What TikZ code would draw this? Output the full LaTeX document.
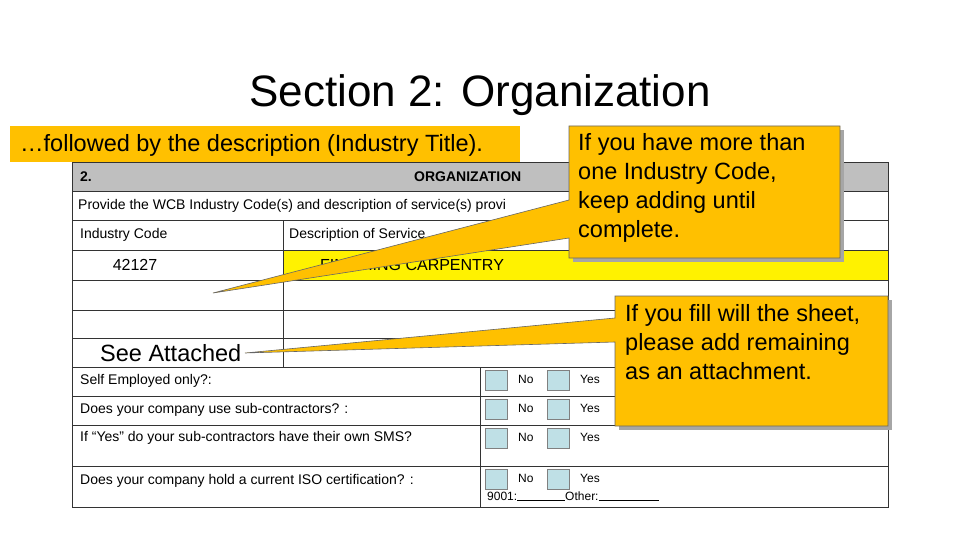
\documentclass[tikz,border=0pt]{standalone}
\usepackage{fontspec}
\setmainfont{Liberation Sans}
\begin{document}
\begin{tikzpicture}[x=1pt,y=-1pt,
 call/.style={fill=orgc,draw=black!60,line width=0.6pt},
 txt/.style={anchor=west,inner sep=0pt,font=\fontsize{14}{16}\selectfont},
 big/.style={anchor=west,inner sep=0pt,font=\fontsize{23.5}{29}\selectfont,align=left},
 cb/.style={fill=cbc,draw=black!50,line width=0.4pt},
 grid/.style={draw=black!80,line width=0.6pt}]
\definecolor{orgc}{HTML}{FFC000}
\definecolor{cbc}{HTML}{BFE0E6}
\useasboundingbox (0,0) rectangle (960,540);
\fill[white] (0,0) rectangle (960,540);
\node[inner sep=0pt,font=\fontsize{44}{50}\selectfont] (title) at (480,95) {Section 2: Organization};
% top callout
\fill[orgc] (10,126) rectangle (520,162);
\node[big] (t1) at (20,145) {…followed by the description (Industry Title).};
% table
\fill[black!25] (72,162) rectangle (888,191);
\fill[yellow] (283,250) rectangle (888,280);
\draw[grid] (72,162) rectangle (888,507);
\foreach \y in {191,220,250,280,310,338,367,396,425,466} \draw[grid] (72,\y) -- (888,\y);
\draw[grid] (283,220) -- (283,367);
\draw[grid] (480,367) -- (480,507);
\node[txt,font=\fontsize{14}{16}\selectfont\bfseries] (h1) at (80,177) {2.};
\node[txt,font=\fontsize{14}{16}\selectfont\bfseries] (h2) at (414,177) {ORGANIZATION};
\node[txt] (r2) at (78,206) {Provide the WCB Industry Code(s) and description of service(s) provi};
\node[txt] (r3a) at (80,235) {Industry Code};
\node[txt] (r3b) at (289,235) {Description of Service};
\node[inner sep=0pt,font=\fontsize{16}{18}\selectfont] (code) at (135,265) {42127};
\node[txt,font=\fontsize{16}{18}\selectfont] (carp) at (320,265) {FINISHING CARPENTRY};
\node[big] (see) at (100,353) {See Attached};
\node[txt] (q1) at (80,381) {Self Employed only?:};
\node[txt] (q2) at (80,410) {Does your company use sub-contractors? :};
\node[txt] (q3) at (80,438) {If “Yes” do your sub-contractors have their own SMS?};
\node[txt] (q4) at (80,481) {Does your company hold a current ISO certification? :};
\foreach \y in {370,399,428,469}{
 \draw[cb] (485,\y) rectangle (507,\y+20);
 \draw[cb] (547,\y) rectangle (569,\y+20);
 \node[txt,font=\fontsize{12}{14}\selectfont] at (518,\y+9) {No};
 \node[txt,font=\fontsize{12}{14}\selectfont] at (580,\y+9) {Yes};
}
\node[txt,font=\fontsize{12}{14}\selectfont] (iso) at (487,496) {9001:\rule{48pt}{0.4pt}Other:\rule{60pt}{0.4pt}};
% callout 1
\coordinate (tip1) at (213,293);
\fill[black!35] (573,130) rectangle (844,262);
\draw[call] (569,126) -- (840,126) -- (840,258) -- (569,258) -- (569,238) -- (tip1) -- (569,200) -- cycle;
\node[big] (c1) at (578,188) {If you have more than\\one Industry Code,\\keep adding until\\complete.};
% callout 2
\coordinate (tip2) at (245,353);
\fill[black!35] (619,300) rectangle (892,430);
\draw[call] (615,296) -- (888,296) -- (888,426) -- (615,426) -- (615,342) -- (tip2) -- (615,318) -- cycle;
\node[big] (c2) at (625,342) {If you fill will the sheet,\\please add remaining\\as an attachment.};
\end{tikzpicture}
\end{document}
